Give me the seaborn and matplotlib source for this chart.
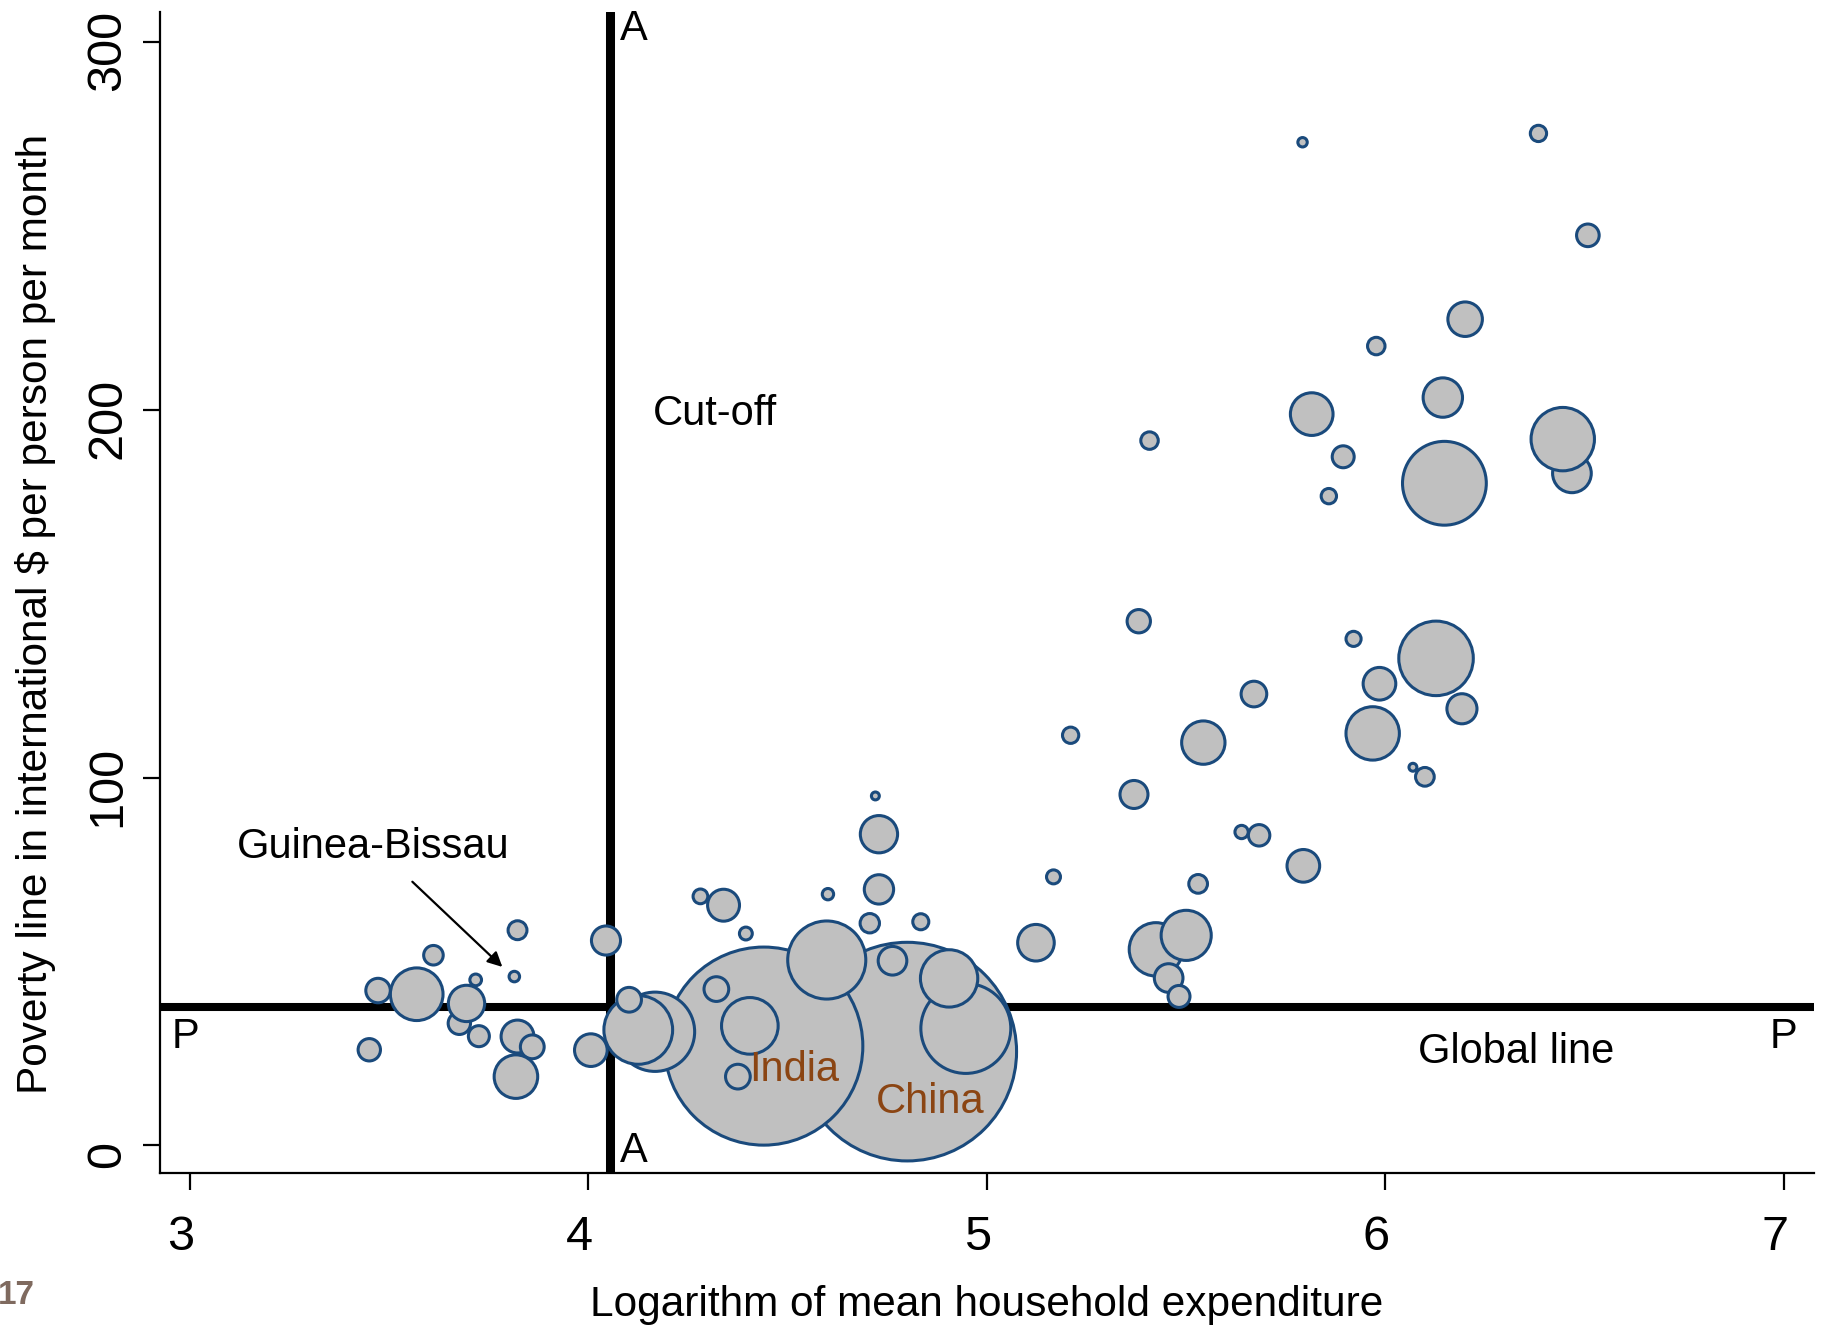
import numpy as np
import pandas as pd
import matplotlib
matplotlib.use('Agg')
import matplotlib.pyplot as plt
import matplotlib.transforms as mtransforms
import seaborn as sns

sns.set_style('ticks')
plt.rcParams['font.family'] = ['Liberation Sans', 'DejaVu Sans']
plt.rcParams['text.color'] = 'black'
plt.rcParams['axes.labelcolor'] = 'black'
plt.rcParams['xtick.color'] = 'black'
plt.rcParams['ytick.color'] = 'black'
plt.rcParams['axes.edgecolor'] = 'black'

# one entry per country, in drawing order (later ones sit on top)
log_exp = [4.80, 4.44, 4.167, 4.125, 4.102,
           3.450, 3.472, 3.569, 3.611, 3.676, 3.694, 3.717, 3.725, 3.814, 3.822,
           3.822, 3.859, 3.818, 4.006, 4.044,
           4.321, 4.375, 4.405, 4.339, 4.281, 4.395, 4.601, 4.720, 4.729, 4.729,
           4.706, 4.834, 4.598, 4.763, 4.947, 4.905, 5.167, 5.123,
           5.210, 5.381, 5.369, 5.543, 5.530, 5.639, 5.683, 5.670, 5.794, 5.424,
           5.500, 5.456, 5.482, 5.920, 6.127, 5.985, 6.192, 5.968, 6.069, 6.099,
           5.408, 5.792, 6.384, 6.508, 6.200, 5.977, 6.144, 5.815, 5.894, 5.858,
           6.148, 6.468, 6.445]
poverty_line = [25.5, 27.0, 30.9, 31.4, 39.6,
                26.0, 42.1, 41.1, 51.7, 33.2, 38.6, 45.0, 29.7, 45.9, 58.5,
                29.6, 26.8, 18.7, 25.9, 55.7,
                42.5, 18.7, 32.5, 65.3, 67.7, 57.6, 68.3, 95.0, 84.6, 69.6,
                60.4, 60.8, 50.4, 50.2, 31.8, 45.4, 73.0, 55.1,
                111.5, 142.5, 95.4, 109.5, 71.1, 85.2, 84.3, 122.7, 76.0, 53.3,
                57.1, 45.5, 40.5, 137.7, 132.4, 125.5, 118.7, 112.0, 102.8, 100.2,
                191.6, 272.7, 275.1, 247.4, 224.6, 217.3, 203.3, 198.8, 187.2, 176.5,
                180.0, 182.7, 192.0]
population = [1300, 1067, 171, 128.5, 16.6,
              13.6, 16.3, 75.4, 10.4, 13.6, 35.9, 3.7, 12.0, 3.0, 9.7,
              29.4, 15.4, 51.6, 29.0, 23.0,
              16.6, 16.6, 87.2, 27.7, 5.9, 4.5, 3.5, 1.7, 37.8, 23.4,
              10.2, 7.0, 165.8, 22.3, 220, 89.4, 5.3, 36.4,
              7.2, 14.8, 21.3, 51.1, 9.5, 4.8, 12.5, 17.9, 29.0, 77.5,
              68.3, 22.3, 13.1, 6.2, 151, 29.0, 24.6, 77.5, 1.7, 9.5,
              8.3, 2.4, 7.2, 13.9, 32.4, 8.3, 42.2, 49.5, 13.1, 6.4,
              191, 40.7, 109.3]

cutoff_x = 4.053
global_line = 37.7

df = pd.DataFrame({'log_exp': log_exp,
                   'poverty_line': poverty_line,
                   'population': population})

fig = plt.figure(figsize=(18.27, 13.26), dpi=100)
ax = fig.add_axes([0.0874, 0.1151, 0.9056, 0.8761])

ax.axvline(cutoff_x, color='black', lw=6.5, zorder=1)
ax.axhline(global_line, color='black', lw=5.8, zorder=1)

pmax = max(population)
sns.scatterplot(data=df, x='log_exp', y='poverty_line', size='population',
                sizes=(0, 19.06 * pmax), size_norm=(0, pmax),
                color='#C0C0C0', edgecolor='#1A4A7C', linewidth=2.2,
                alpha=1, legend=False, ax=ax, zorder=2)

ax.set_xlim(2.924, 7.076)
ax.set_ylim(-7.6, 308.2)
ax.set_xticks([3, 4, 5, 6, 7])
ax.set_yticks([0, 100, 200, 300])
sns.despine(ax=ax)
for side in ['left', 'bottom']:
    ax.spines[side].set_linewidth(1.6)
ax.tick_params(axis='both', direction='out', length=12, width=1.6, labelsize=35)
ax.tick_params(axis='x', pad=18)
ax.tick_params(axis='y', pad=9, labelrotation=90)

# the original labels sit a little off-centre from their ticks
shift_x = mtransforms.ScaledTranslation(-0.09, 0, fig.dpi_scale_trans)
shift_y = mtransforms.ScaledTranslation(0, -0.09, fig.dpi_scale_trans)
for lbl in ax.get_xticklabels():
    lbl.set_transform(lbl.get_transform() + shift_x)
for lbl in ax.get_yticklabels():
    lbl.set_verticalalignment('center')
    lbl.set_transform(lbl.get_transform() + shift_y)

ax.set_xlabel('Logarithm of mean household expenditure', fontsize=30.5, labelpad=18)
ax.set_ylabel('Poverty line in international $ per person per month', fontsize=30.5)
ax.yaxis.set_label_coords(-0.0625, 0.4815)

fs = 30
ax.text(4.08, 303.5, 'A', ha='left', va='center', fontsize=fs)
ax.text(4.08, -1.6, 'A', ha='left', va='center', fontsize=fs)
ax.text(2.953, 29.5, 'P', ha='left', va='center', fontsize=fs)
ax.text(6.965, 29.5, 'P', ha='left', va='center', fontsize=fs)
ax.text(4.161, 198.9, 'Cut-off', ha='left', va='center', fontsize=fs)
ax.text(6.082, 25.3, 'Global line', ha='left', va='center', fontsize=fs)
ax.text(3.117, 81.1, 'Guinea-Bissau', ha='left', va='center', fontsize=fs)
ax.annotate('', xy=(3.789, 48.0), xytext=(3.553, 72.2),
            arrowprops=dict(arrowstyle='-|>', color='black', lw=1.6, mutation_scale=22))
ax.text(4.404, 20.6, 'India', ha='left', va='center', fontsize=fs, color='#8B4513', zorder=5)
ax.text(4.722, 11.7, 'China', ha='left', va='center', fontsize=fs, color='#8B4513', zorder=5)

fig.text(35 / 1827, 1 - 1296 / 1326, '17', ha='right', va='center',
         fontsize=24, fontweight='bold', color='#7F6A5F')

fig.savefig('out.png', dpi=100, facecolor='white')
